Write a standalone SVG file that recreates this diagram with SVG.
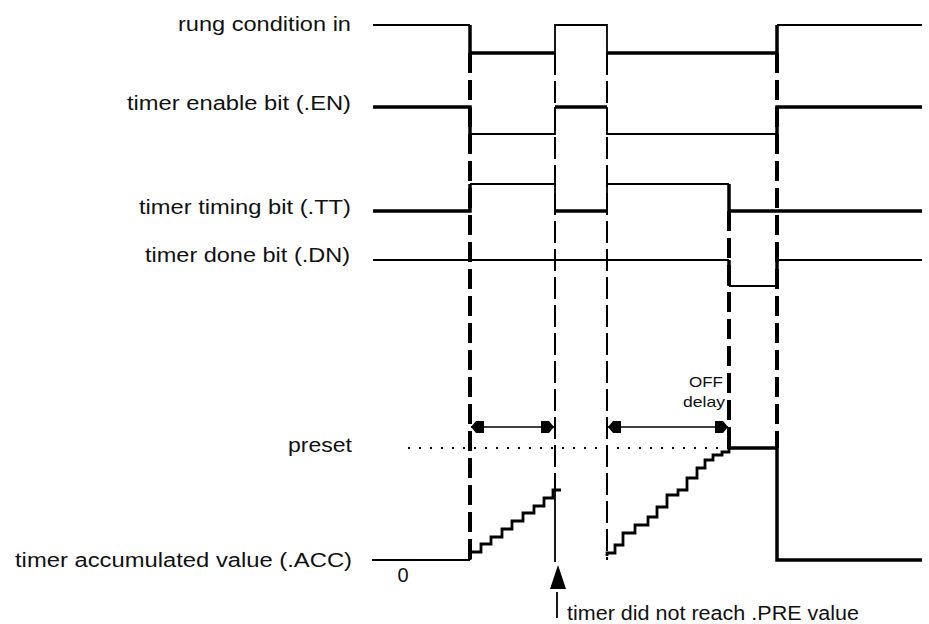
<svg xmlns="http://www.w3.org/2000/svg" width="929" height="624" viewBox="0 0 929 624">
<style>
.lbl{font-family:"Liberation Sans",Arial,sans-serif;font-size:20px;fill:#111}
.sm{font-family:"Liberation Sans",Arial,sans-serif;font-size:15px;fill:#111}
.thin{fill:none;stroke:#000;stroke-width:1.8}
.thick{fill:none;stroke:#000;stroke-width:3.5}
.stair{fill:none;stroke:#000;stroke-width:2.8}
.dthick{fill:none;stroke:#000;stroke-width:4;stroke-dasharray:20 7}
.dthin{fill:none;stroke:#000;stroke-width:2;stroke-dasharray:22 6}
.dot{fill:none;stroke:#000;stroke-width:2;stroke-dasharray:2 9}
.dim{fill:none;stroke:#000;stroke-width:1.5;marker-start:url(#ah);marker-end:url(#ah)}
</style>
<defs>
<marker id="ah" viewBox="0 0 13 13" refX="13" refY="6.5" markerWidth="13" markerHeight="13" markerUnits="userSpaceOnUse" orient="auto-start-reverse">
<path d="M0 0.5 H8 L13 6.5 L8 12.5 H0 Z" fill="#000"/>
</marker>
</defs>
<rect width="929" height="624" fill="#fff"/>

<g id="rung">
<text class="lbl" x="351" y="31" text-anchor="end" textLength="173" lengthAdjust="spacingAndGlyphs">rung condition in</text>
<path class="thin" d="M373 25 H470"/>
<path class="thick" d="M470 25 V53 H555"/>
<path class="thin" d="M555 53 V25 H607 V53"/>
<path class="thick" d="M607 53 H777 V25"/>
<path class="thin" d="M777 25 H922"/>
</g>

<g id="enable">
<text class="lbl" x="351" y="110" text-anchor="end" textLength="224" lengthAdjust="spacingAndGlyphs">timer enable bit (.EN)</text>
<path class="thick" d="M373 107 H470 V134"/>
<path class="thin" d="M470 134 H555 V107"/>
<path class="thick" d="M555 107 H607"/>
<path class="thin" d="M607 107 V134 H777"/>
<path class="thick" d="M777 134 V107 H922"/>
</g>

<g id="timing">
<text class="lbl" x="351" y="214" text-anchor="end" textLength="212" lengthAdjust="spacingAndGlyphs">timer timing bit (.TT)</text>
<path class="thick" d="M373 211 H470 V184"/>
<path class="thin" d="M470 184 H555 V211"/>
<path class="thick" d="M555 211 H607"/>
<path class="thin" d="M607 211 V184 H729"/>
<path class="thick" d="M729 184 V211 H922"/>
</g>

<g id="done">
<text class="lbl" x="350" y="262" text-anchor="end" textLength="205" lengthAdjust="spacingAndGlyphs">timer done bit (.DN)</text>
<path class="thin" d="M373 260 H729"/>
<path class="thick" d="M729 260 V286"/>
<path class="thin" d="M729 286 H777"/>
<path class="thick" d="M777 286 V260"/>
<path class="thin" d="M777 260 H922"/>
</g>

<g id="preset">
<text class="lbl" x="352" y="452" text-anchor="end" textLength="64" lengthAdjust="spacingAndGlyphs">preset</text>
<path class="dot" d="M408 448 H729"/>
</g>

<g id="acc">
<text class="lbl" x="352" y="567" text-anchor="end" textLength="337" lengthAdjust="spacingAndGlyphs">timer accumulated value (.ACC)</text>
<text class="lbl" x="403" y="582" text-anchor="middle">0</text>
<path class="thin" d="M372 560 H470"/>
<path class="stair" d="M470 560 V552 H481 V544 H491 V537 H502 V529 H512 V521 H523 V513 H534 V506 H544 V498 H553 V490 H561"/>
<path class="thin" d="M555 490 V562"/>
<path class="stair" d="M607 556 V553 H615 V545 H623 V533 H635 V525 H648 V517 H657 V507 H667 V495 H678 V490 H687 V478 H697 V468 H705 V460 H713 V455 H722 V452 H729 V448"/>
<path class="thick" d="M729 448 H777 V560 H922"/>
</g>

<g id="off-delay">
<text class="sm" x="723" y="387" text-anchor="end" textLength="34" lengthAdjust="spacingAndGlyphs">OFF</text>
<text class="sm" x="725" y="407" text-anchor="end" textLength="42" lengthAdjust="spacingAndGlyphs">delay</text>
</g>

<g id="note">
<polygon points="558,565 566,589 550,589" fill="#000"/>
<path class="thin" d="M557 592 V618"/>
<text class="lbl" x="567" y="620" textLength="292" lengthAdjust="spacingAndGlyphs">timer did not reach .PRE value</text>
</g>

<g id="connectors">
<path class="dthick" d="M470 53 V560"/>
<path class="dthin" d="M555 53 V490"/>
<path class="dthin" d="M607 53 V560"/>
<path class="dthick" d="M729 211 V448"/>
<path class="dthick" d="M777 53 V448"/>
<path class="dim" d="M471 427 H554"/>
<path class="dim" d="M608 427 H728"/>
</g>
</svg>
